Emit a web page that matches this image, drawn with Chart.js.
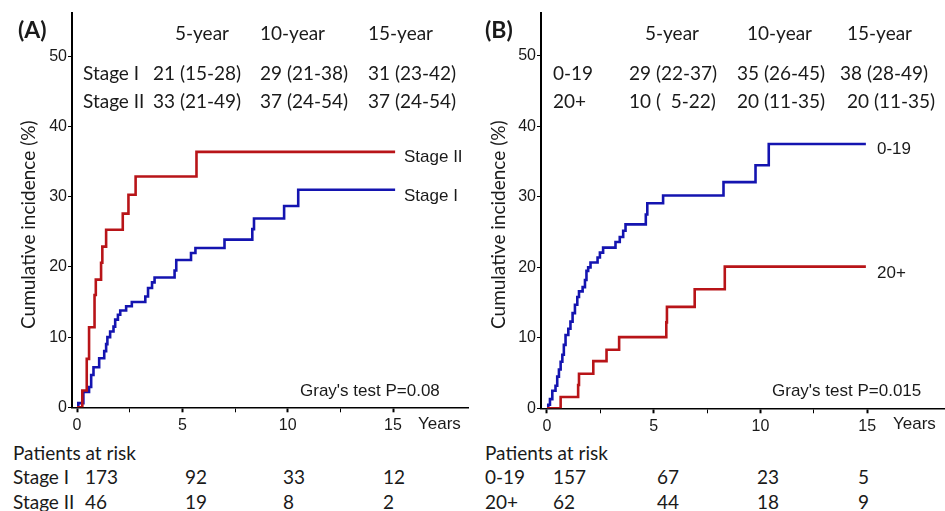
<!DOCTYPE html>
<html lang="en">
<head>
  <meta charset="UTF-8">
  <title>Cumulative incidence</title>
  <style>
    body {
      margin: 0;
      background: #fff;
    }
    #wrap {
      position: relative;
      width: 945px;
      height: 511px;
      overflow: hidden;
    }
    canvas {
      position: absolute;
      top: 0;
    }
    .txt {
      position: absolute;
      white-space: pre;
      line-height: 1;
      color: #1a1a1a;
    }
    .cal { font-family: Lato, "Open Sans", sans-serif; font-size: 19px; }
    .lab { font-family: Lato, sans-serif; font-size: 23px; font-weight: bold; }
    .ari { font-family: "Liberation Sans", Arial, sans-serif; font-size: 17px; }
    .mark { display: inline-block; width: 0; height: 0; vertical-align: baseline; }
  </style>
</head>
<body>
  <div id="wrap">
    <canvas id="chartA" width="470" height="440" style="left:0"></canvas>
    <canvas id="chartB" width="475" height="440" style="left:470px"></canvas>
  </div>

  <script src="https://cdn.jsdelivr.net/npm/chart.js"></script>
  <script>
    // axis ticks
    const yearTicks = [0, 2.5, 5, 7.5, 10, 12.5, 15];
    const pctTicks = [0, 10, 20, 30, 40, 50];

    // (A) stage
    const stage1Time = [0, 0.06, 0.3, 0.57, 0.67, 0.78, 1.05, 1.29, 1.38, 1.44, 1.57, 1.73, 1.81, 1.94, 2.05,
      2.33, 2.6, 3.24, 3.37, 3.56, 3.68, 4.63, 4.71, 5.41, 5.62, 7.0, 8.32, 8.4, 9.83, 10.5, 15.1];
    const stage1Cif = [0, 0.6, 2.2, 2.9, 4.6, 5.7, 7, 8, 9, 10, 10.8, 11.5, 12.5, 13.2, 13.8,
      14.4, 15, 15.8, 17, 17.8, 18.5, 19.5, 21, 22, 22.7, 23.9, 25.4, 26.9, 28.7, 31, 31];
    const stage2Time = [0, 0.25, 0.46, 0.57, 0.83, 0.89, 1.14, 1.2, 1.38, 2.17, 2.44, 2.78, 5.67, 15.1];
    const stage2Cif = [0, 2.4, 6.9, 11.4, 16, 18.2, 20.6, 22.9, 25.3, 27.6, 30.3, 32.9, 36.4, 36.4];

    // (B) age group
    const ageYoungTime = [0, 0.06, 0.14, 0.25, 0.4, 0.48, 0.56, 0.64, 0.72, 0.79, 0.87, 1.0, 1.1, 1.2, 1.31,
      1.42, 1.5, 1.67, 1.78, 1.85, 1.93, 2.04, 2.37, 2.48, 2.63, 3.21, 3.41, 3.57, 3.68, 4.63, 4.7,
      5.44, 8.27, 9.77, 10.39, 14.94];
    const ageYoungCif = [0, 0.5, 1.3, 2.5, 3.2, 4.5, 5.5, 6.6, 7.6, 9, 10.4, 11.3, 12.3, 13.5, 14.7,
      15.8, 16.6, 17.2, 18.2, 19.5, 20, 20.7, 21.4, 22.1, 22.8, 23.6, 24.3, 25.2, 26.1, 27.5, 29.1,
      30.2, 32.1, 34.5, 37.5, 37.5];
    const ageOldTime = [0, 0.64, 1.46, 1.5, 2.17, 2.79, 3.38, 5.59, 5.62, 6.92, 8.33, 14.94];
    const ageOldCif = [0, 1.6, 3.3, 4.9, 6.7, 8.3, 10.1, 12.2, 14.4, 16.9, 20.1, 20.1];

    // estimate tables
    const estHead = ['5-year', '10-year', '15-year'];
    const estStage1 = ['21 (15-28)', '29 (21-38)', '31 (23-42)'];
    const estStage2 = ['33 (21-49)', '37 (24-54)', '37 (24-54)'];
    const estYoung = ['29 (22-37)', '35 (26-45)', '38 (28-49)'];
    const estOld = ['10 (  5-22)', '20 (11-35)', '20 (11-35)'];

    // patients at risk at 0, 5, 10, 15 years
    const riskStage1 = [173, 92, 33, 12];
    const riskStage2 = [46, 19, 8, 2];
    const riskYoung = [157, 67, 23, 5];
    const riskOld = [62, 44, 18, 9];

    const RED = '#b81418';
    const BLUE = '#1414b0';

    function toPoints(t, y) {
      return t.map((v, i) => ({ x: v, y: y[i] }));
    }

    function makeChart(id, series, o) {
      const tickFont = { family: '"Liberation Sans", Arial, sans-serif', size: 16 };
      return new Chart(document.getElementById(id), {
        type: 'line',
        data: {
          datasets: series.map(s => ({
            data: toPoints(s.t, s.y),
            borderColor: s.color,
            borderWidth: 2.6,
            pointRadius: 0,
            stepped: true,
            fill: false
          }))
        },
        options: {
          responsive: false,
          animation: false,
          layout: { padding: { top: 13, right: o.padRight, left: 0, bottom: 0 } },
          plugins: { legend: { display: false }, tooltip: { enabled: false } },
          scales: {
            x: {
              type: 'linear',
              min: o.xMin,
              max: o.xMax,
              afterBuildTicks: s => { s.ticks = yearTicks.map(v => ({ value: v })); },
              afterFit: s => { s.height = o.xAxisH; },
              grid: {
                drawOnChartArea: false,
                tickLength: 5,
                tickColor: '#000',
                tickWidth: c => (c.tick && c.tick.value % 5 === 0) ? 2 : 1
              },
              border: { color: '#000', width: 1.5 },
              ticks: {
                font: tickFont,
                color: '#1a1a1a',
                padding: 4,
                maxRotation: 0,
                autoSkip: false,
                callback: v => (v % 5 === 0 ? v : '')
              }
            },
            y: {
              min: 0,
              max: o.yMax,
              afterBuildTicks: s => { s.ticks = pctTicks.map(v => ({ value: v })); },
              afterFit: s => { s.width = o.yAxisW; },
              grid: { drawOnChartArea: false, tickLength: 4, tickColor: '#000' },
              border: { color: '#000', width: 2 },
              ticks: { font: tickFont, color: '#1a1a1a', padding: 1 }
            }
          }
        }
      });
    }

    makeChart('chartA', [
      { t: stage2Time, y: stage2Cif, color: RED },
      { t: stage1Time, y: stage1Cif, color: BLUE }
    ], { xMin: -0.24, xMax: 18.56, yMax: 56.2, yAxisW: 72, xAxisH: 32.7, padRight: 2 });

    makeChart('chartB', [
      { t: ageOldTime, y: ageOldCif, color: RED },
      { t: ageYoungTime, y: ageYoungCif, color: BLUE }
    ], { xMin: -0.28, xMax: 18.6, yMax: 56.1, yAxisW: 71, xAxisH: 31.7, padRight: 1 });

    // text placed by left edge and baseline
    const wrap = document.getElementById('wrap');
    function put(text, x, baseline, cls, rotate) {
      const el = document.createElement('div');
      el.className = 'txt ' + cls;
      el.textContent = text;
      const m = document.createElement('span');
      m.className = 'mark';
      el.appendChild(m);
      wrap.appendChild(el);
      const b = m.offsetTop;
      if (rotate) {
        // x = baseline column, baseline = bottom end of the text
        el.style.transformOrigin = '0 0';
        el.style.transform = 'rotate(-90deg)';
        el.style.left = (x - b) + 'px';
        el.style.top = baseline + 'px';
      } else {
        el.style.left = x + 'px';
        el.style.top = (baseline - b) + 'px';
      }
    }

    function panelText(p) {
      put(p.tag, p.tagX, 38, 'lab');
      put('Cumulative incidence (%)', p.titleX, 329, 'cal', true);
      p.headX.forEach((x, i) => put(estHead[i], x, 40, 'cal'));
      put(p.names[0], p.nameX, 80, 'cal');
      put(p.names[1], p.nameX, 108, 'cal');
      p.est1X.forEach((x, i) => put(p.est1[i], x, 80, 'cal'));
      p.est2X.forEach((x, i) => put(p.est2[i], x, 108, 'cal'));
      put(p.lineNames[0], p.lineX, p.lineY[0], 'ari');
      put(p.lineNames[1], p.lineX, p.lineY[1], 'ari');
      put(p.test, p.testX, 396, 'ari');
      put('Years', p.yearsX, 429, 'ari');
      put('Patients at risk', p.riskX, 460, 'cal');
      put(p.names[0], p.riskX, 484, 'cal');
      put(p.names[1], p.riskX, 509, 'cal');
      p.riskColX.forEach((x, i) => {
        put(String(p.risk1[i]), x, 484, 'cal');
        put(String(p.risk2[i]), x, 509, 'cal');
      });
    }

    panelText({
      tag: '(A)', tagX: 18, titleX: 35,
      headX: [175, 260, 368],
      names: ['Stage I', 'Stage II'], nameX: 83,
      est1: estStage1, est2: estStage2, est1X: [153, 260, 368], est2X: [153, 260, 368],
      lineNames: ['Stage II', 'Stage I'], lineX: 404, lineY: [162, 201],
      test: "Gray's test P=0.08", testX: 300, yearsX: 418,
      riskX: 13, riskColX: [85, 185, 283, 383], risk1: riskStage1, risk2: riskStage2
    });

    panelText({
      tag: '(B)', tagX: 485, titleX: 505,
      headX: [645, 747, 847],
      names: ['0-19', '20+'], nameX: 553,
      est1: estYoung, est2: estOld, est1X: [629, 737, 840], est2X: [629, 737, 847],
      lineNames: ['0-19', '20+'], lineX: 877, lineY: [154, 278],
      test: "Gray's test P=0.015", testX: 772, yearsX: 893,
      riskX: 485, riskColX: [553, 657, 757, 858], risk1: riskYoung, risk2: riskOld
    });
  </script>
</body>
</html>
